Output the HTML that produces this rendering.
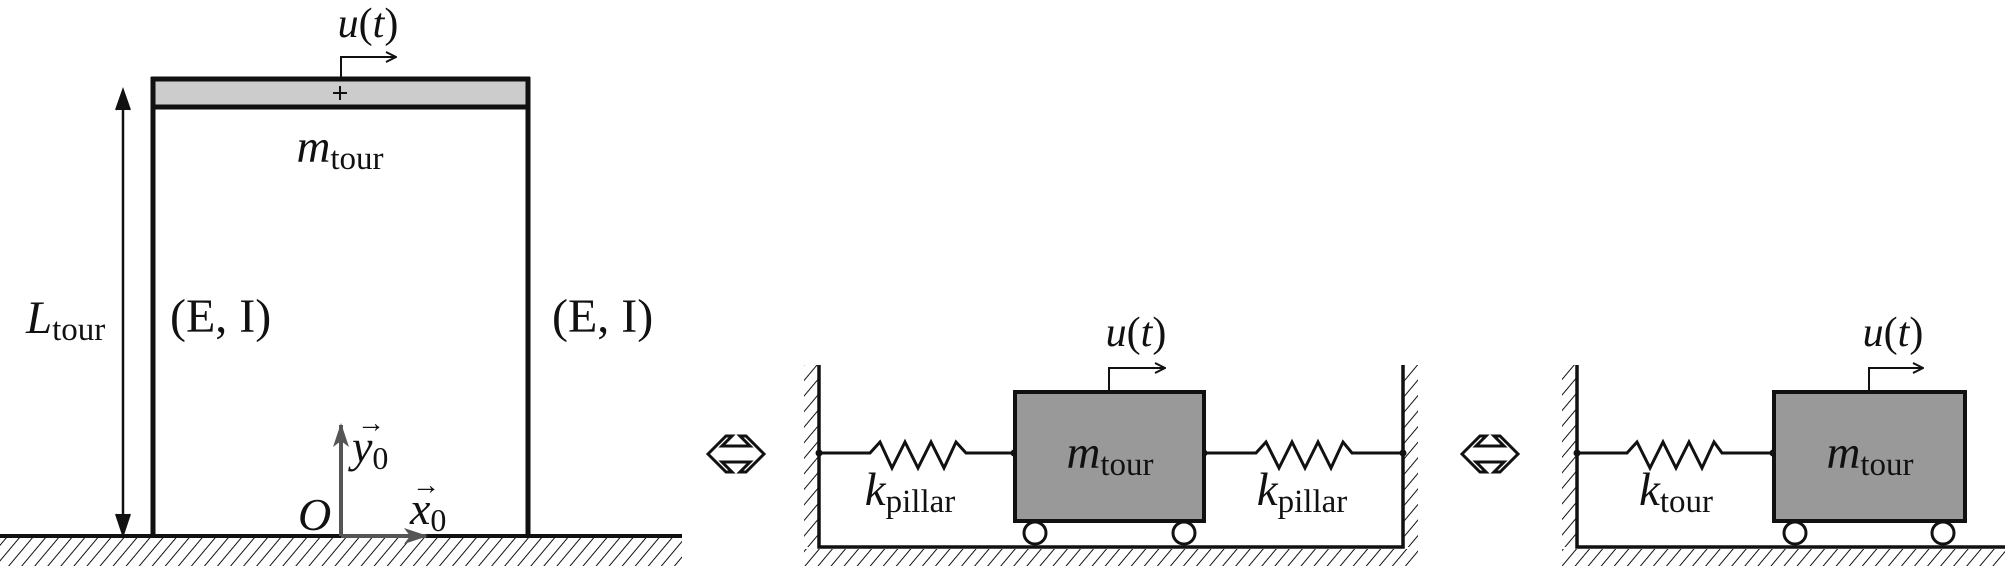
<!DOCTYPE html>
<html><head><meta charset="utf-8"><style>
html,body{margin:0;padding:0;background:#fff}
svg{display:block}
text{font-family:"Liberation Serif",serif;fill:#111}
.v{font-style:italic}
</style></head><body>
<svg width="2005" height="566" viewBox="0 0 2005 566" xmlns="http://www.w3.org/2000/svg">
<defs>
<pattern id="hatch" patternUnits="userSpaceOnUse" width="10" height="10" patternTransform="rotate(40)">
<line x1="0" y1="0" x2="0" y2="10" stroke="#111" stroke-width="2"/>
</pattern>
<marker id="ah" markerWidth="12" markerHeight="12" refX="11" refY="6" orient="auto" markerUnits="userSpaceOnUse">
<path d="M1,1 L11,6 L1,11" fill="none" stroke="#111" stroke-width="2"/>
</marker>
<marker id="ahg" markerWidth="24" markerHeight="16" refX="22" refY="8" orient="auto" markerUnits="userSpaceOnUse">
<path d="M0,0 L24,8 L0,16 L6,8 Z" fill="#555"/>
</marker>
</defs>

<!-- LEFT PANEL -->
<g>
<rect x="0" y="537" width="682" height="29" fill="url(#hatch)"/>
<line x1="0" y1="536" x2="682" y2="536" stroke="#111" stroke-width="4"/>
<rect x="153" y="80" width="375" height="26" fill="#cccccc"/>
<line x1="151" y1="79" x2="530" y2="79" stroke="#111" stroke-width="5"/>
<line x1="151" y1="107" x2="530" y2="107" stroke="#111" stroke-width="5"/>
<line x1="153" y1="77" x2="153" y2="536" stroke="#111" stroke-width="5"/>
<line x1="528" y1="77" x2="528" y2="536" stroke="#111" stroke-width="5"/>
<path d="M333,93 H347 M340,86 V100" stroke="#111" stroke-width="2"/>
<path d="M341,77 V57 H396" fill="none" stroke="#111" stroke-width="2" marker-end="url(#ah)"/>
<text x="368" y="37" font-size="42" text-anchor="middle"><tspan class="v">u</tspan>(<tspan class="v">t</tspan>)</text>
<text x="340" y="162" font-size="47" text-anchor="middle"><tspan class="v">m</tspan><tspan font-size="33" dy="7">tour</tspan></text>
<line x1="123" y1="94" x2="123" y2="520" stroke="#111" stroke-width="2.5"/>
<path d="M116,110 L123,90 L130,110" fill="#111" stroke="#111" stroke-width="2"/>
<path d="M116,514 L123,535 L130,514" fill="#111" stroke="#111" stroke-width="2"/>
<text x="26" y="333" font-size="47"><tspan class="v">L</tspan><tspan font-size="33" dy="7">tour</tspan></text>
<text x="170" y="332" font-size="48">(E, I)</text>
<text x="552" y="332" font-size="48">(E, I)</text>
<line x1="341" y1="536" x2="341" y2="425" stroke="#555" stroke-width="4" marker-end="url(#ahg)"/>
<line x1="341" y1="536" x2="426" y2="536" stroke="#555" stroke-width="4" marker-end="url(#ahg)"/>
<text x="298" y="530" font-size="46" class="v">O</text>
<text x="352" y="462" font-size="46"><tspan class="v">y</tspan><tspan font-size="32" dy="7">0</tspan></text>
<text x="357" y="432" font-size="28">→</text>
<text x="410" y="524" font-size="46"><tspan class="v">x</tspan><tspan font-size="32" dy="7">0</tspan></text>
<text x="412" y="494" font-size="28">→</text>
</g>

<path d="M708,454 L726,436 L732,436 L722,446 H750 L740,436 L746,436 L764,454 L746,472 L740,472 L750,462 H722 L732,472 L726,472 Z" fill="none" stroke="#111" stroke-width="3" stroke-linejoin="miter"/>

<!-- MIDDLE PANEL -->
<g>
<rect x="804" y="365" width="14" height="182" fill="url(#hatch)"/>
<rect x="1404" y="365" width="14" height="182" fill="url(#hatch)"/>
<rect x="804" y="549" width="614" height="17" fill="url(#hatch)"/>
<path d="M819,365 V547 H1403 V365" fill="none" stroke="#111" stroke-width="3.5"/>
<path d="M819,453 H870 L880,442 L892,468 L905,442 L918,468 L931,442 L944,468 L956,442 L966,453 H1014" fill="none" stroke="#111" stroke-width="3"/>
<path d="M1204,453 H1256 L1266,442 L1279,468 L1292,442 L1305,468 L1318,442 L1331,468 L1343,442 L1352,453 H1403" fill="none" stroke="#111" stroke-width="3"/>
<circle cx="819" cy="453" r="3.5" fill="#111"/><circle cx="1014" cy="453" r="3.5" fill="#111"/>
<circle cx="1204" cy="453" r="3.5" fill="#111"/><circle cx="1403" cy="453" r="3.5" fill="#111"/>
<rect x="1015" y="392" width="189" height="129" fill="#999999" stroke="#111" stroke-width="4"/>
<circle cx="1035" cy="533" r="11" fill="#fff" stroke="#111" stroke-width="3"/>
<circle cx="1184" cy="533" r="11" fill="#fff" stroke="#111" stroke-width="3"/>
<text x="1110" y="468" font-size="47" text-anchor="middle"><tspan class="v">m</tspan><tspan font-size="33" dy="7">tour</tspan></text>
<text x="910" y="505" font-size="47" text-anchor="middle"><tspan class="v">k</tspan><tspan font-size="33" dy="7">pillar</tspan></text>
<text x="1302" y="505" font-size="47" text-anchor="middle"><tspan class="v">k</tspan><tspan font-size="33" dy="7">pillar</tspan></text>
<path d="M1109,390 V368 H1165" fill="none" stroke="#111" stroke-width="2" marker-end="url(#ah)"/>
<text x="1136" y="346" font-size="42" text-anchor="middle"><tspan class="v">u</tspan>(<tspan class="v">t</tspan>)</text>
</g>

<path d="M1462,454 L1480,436 L1486,436 L1476,446 H1504 L1494,436 L1500,436 L1518,454 L1500,472 L1494,472 L1504,462 H1476 L1486,472 L1480,472 Z" fill="none" stroke="#111" stroke-width="3"/>

<!-- RIGHT PANEL -->
<g>
<rect x="1562" y="365" width="14" height="182" fill="url(#hatch)"/>
<rect x="1562" y="549" width="443" height="17" fill="url(#hatch)"/>
<path d="M1577,365 V547 H2005" fill="none" stroke="#111" stroke-width="3.5"/>
<path d="M1577,453 H1627 L1637,442 L1650,468 L1663,442 L1676,468 L1689,442 L1702,468 L1714,442 L1722,453 H1773" fill="none" stroke="#111" stroke-width="3"/>
<circle cx="1577" cy="453" r="3.5" fill="#111"/><circle cx="1773" cy="453" r="3.5" fill="#111"/>
<rect x="1774" y="392" width="191" height="129" fill="#999999" stroke="#111" stroke-width="4"/>
<circle cx="1795" cy="533" r="11" fill="#fff" stroke="#111" stroke-width="3"/>
<circle cx="1943" cy="533" r="11" fill="#fff" stroke="#111" stroke-width="3"/>
<text x="1870" y="468" font-size="47" text-anchor="middle"><tspan class="v">m</tspan><tspan font-size="33" dy="7">tour</tspan></text>
<text x="1676" y="505" font-size="47" text-anchor="middle"><tspan class="v">k</tspan><tspan font-size="33" dy="7">tour</tspan></text>
<path d="M1869,390 V368 H1923" fill="none" stroke="#111" stroke-width="2" marker-end="url(#ah)"/>
<text x="1893" y="346" font-size="42" text-anchor="middle"><tspan class="v">u</tspan>(<tspan class="v">t</tspan>)</text>
</g>
</svg>
</body></html>
